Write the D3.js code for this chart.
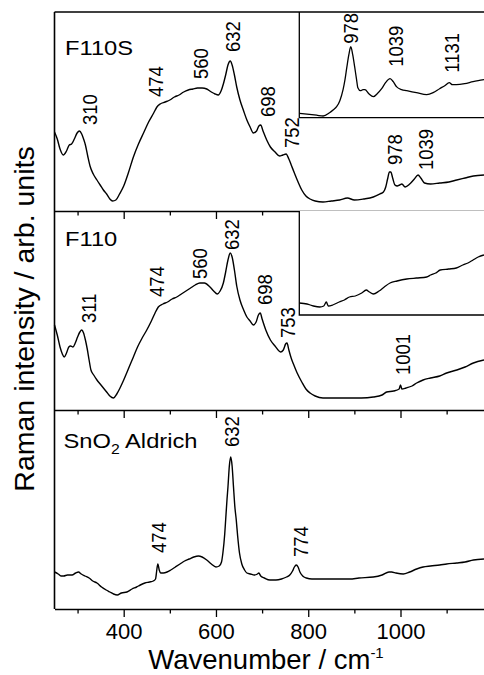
<!DOCTYPE html>
<html>
<head>
<meta charset="utf-8">
<script src="https://cdn.jsdelivr.net/npm/d3@7"></script>
<style>
  html, body { margin: 0; padding: 0; background: #fff; }
  svg { display: block; }
  text { font-family: "Liberation Sans", Arial, Helvetica, sans-serif; fill: #000; }
</style>
</head>
<body>
<svg id="chart" width="484" height="675"></svg>
<script>
// ---------------- DATA ----------------
const panelNames = ["F110S", "F110", "SnO2 Aldrich"];
const majorTicks = [400, 600, 800, 1000];
const minorTicks = [300, 500, 700, 900, 1100];
const tickLabels = ["400", "600", "800", "1000"];

// Spectra: [wavenumber (cm-1), intensity (arb. units)]
const f110s = [[250,79],[256,72],[262,62],[269,56],[276,60],[282,66],[287,67],[293,72],[299,78],[304,80],[309,77],[313,72],[317,66],[322,55],[327,45],[334,37],[342,31],[349,26],[356,21],[363,17],[370,12],[376,10],[383,11],[391,17],[400,25],[410,38],[421,54],[432,67],[443,78],[454,89],[465,98],[472,104],[479,107],[490,109],[500,111],[510,114],[520,116],[530,119],[540,121],[550,122],[560,123],[570,123],[580,122],[590,119],[598,117],[605,116],[611,120],[616,127],[621,136],[626,146],[631,150],[635,146],[640,136],[645,124],[652,111],[660,100],[667,91],[674,84],[681,78],[688,80],[693,85],[697,86],[702,80],[710,71],[718,64],[728,59],[738,55],[745,56],[752,57],[758,52],[764,45],[770,38],[778,29],[786,21],[795,15],[804,12],[815,10],[832,9],[850,10],[868,11],[885,13],[900,11],[920,12],[941,14],[955,17],[963,19],[968,24],[972,32],[976,39],[979,39],[983,33],[988,26],[993,25],[998,26],[1003,27],[1010,24],[1020,27],[1030,32],[1038,36],[1044,33],[1052,28],[1065,27],[1085,28],[1105,29],[1122,31],[1140,33],[1158,35],[1181,36]];

const f110 = [[250,85],[256,75],[262,63],[267,56],[271,53],[276,57],[281,63],[285,64],[290,63],[295,67],[300,73],[305,78],[309,80],[313,77],[317,70],[321,61],[325,50],[329,40],[335,35],[342,30],[349,26],[356,22],[363,18],[370,14],[378,12],[385,16],[392,22],[400,30],[410,41],[421,53],[430,63],[440,72],[450,80],[460,89],[468,97],[475,103],[485,106],[495,108],[505,111],[515,113],[525,116],[535,119],[545,122],[555,125],[565,127],[575,127],[587,123],[595,119],[603,116],[609,119],[616,127],[621,138],[626,150],[631,157],[635,153],[640,140],[645,124],[652,110],[660,100],[667,93],[674,89],[681,85],[687,88],[692,95],[696,97],[700,91],[708,80],[718,70],[728,64],[740,58],[746,60],[751,66],[754,67],[758,60],[763,52],[768,46],[776,37],[786,28],[795,21],[804,17],[815,14],[832,12],[860,12],[890,12],[915,12],[941,13],[960,15],[970,18],[985,19],[997,21],[1000,25],[1003,21],[1012,22],[1025,24],[1035,27],[1049,30],[1065,32],[1085,34],[1100,37],[1122,40],[1140,43],[1158,47],[1181,50]];

const sno2 = [[250,37],[258,35],[264,33],[270,33],[278,34],[288,34],[296,36],[302,37],[308,35],[316,33],[325,31],[333,28],[342,26],[352,22],[362,19],[370,17],[378,15],[386,14],[395,16],[407,17],[418,20],[428,22],[436,24],[446,26],[456,27],[464,28],[469,30],[472,40],[474,45],[477,39],[480,36],[486,36],[494,37],[502,39],[512,42],[522,45],[532,48],[542,50],[552,52],[562,53],[570,52],[580,49],[590,45],[600,42],[607,43],[612,47],[615,56],[619,75],[621,89],[624,110],[626,122],[629,143],[632,152],[635,143],[638,122],[641,102],[644,89],[647,73],[651,56],[656,45],[662,39],[667,36],[675,35],[683,34],[690,35],[693,36],[697,33],[705,31],[717,29],[730,29],[742,30],[753,32],[760,34],[766,38],[770,42],[774,44],[778,42],[782,37],[788,33],[796,31],[808,30],[818,30],[840,30],[868,30],[890,30],[910,31],[941,32],[960,34],[975,37],[981,37],[990,36],[1006,35],[1020,37],[1035,40],[1049,42],[1065,43],[1085,44],[1100,45],[1122,46],[1140,47],[1158,49],[1181,50]];

// Inset spectra (zoomed high-wavenumber region)
const f110sInset = [[898,4.4],[910,3.6],[925,2.5],[935,1.7],[945,5],[951,8],[956,11],[961,17],[966,28],[969,38],[972,51],[975,63],[978,71],[981,63],[984,51],[987,38],[989,30],[993,27],[997,28],[1000,28],[1006,24],[1013,21],[1019,24],[1026,29],[1032,35],[1039,39],[1044,36],[1049,31],[1057,28],[1065,27],[1080,25],[1096,23],[1106,25],[1116,29],[1124,32],[1131,35],[1136,33],[1142,33],[1155,34],[1168,36],[1176,37],[1185,38]];

const f110Inset = [[898,12],[910,11],[920,9],[930,8],[936,9],[940,13],[943,9],[950,10],[960,13],[968,15],[976,18],[985,19],[995,22],[1002,25],[1007,23],[1013,21],[1022,24],[1030,28],[1039,32],[1050,34],[1065,36],[1080,37],[1096,38],[1102,40],[1110,42],[1117,45],[1130,46],[1142,47],[1152,50],[1160,52],[1168,55],[1176,58],[1185,60]];

// Peak annotations: [label, wavenumber anchor, intensity anchor]
const f110sPeaks = [["310",325,86],["474",469,114],["560",566,132],["632",635,159],["698",712,94],["752",763,63],["978",986,46],["1039",1055,41]];
const f110sInsetPeaks = [["978",978,74],["1039",1048,51],["1131",1135,45]];
const f110Peaks = [["311",323,87],["474",471,113],["560",565,131],["632",633,160],["698",706,105],["753",755,72],["1001",1005,35]];
const sno2Peaks = [["632",633,162],["474",475,56],["774",784,52]];

// ---------------- LAYOUT ----------------
const W = 484, H = 675;
const left = 54.5, right = 484;
const panelTops = [12, 211, 410];
const panelH = 199;
const insetLeft = 299.3;
const insetBottoms = [117.7, 315];
const xDomain = [250, 1181];
const insetDomain = [898, 1185];
const yDomain = [0, 199];

const svg = d3.select("#chart");
const x = d3.scaleLinear().domain(xDomain).range([left, right]);
const xi = d3.scaleLinear().domain(insetDomain).range([insetLeft, right]);

const panels = [
  { name: panelNames[0], data: f110s, peaks: f110sPeaks, inset: f110sInset, insetPeaks: f110sInsetPeaks, labelDy: 43 },
  { name: panelNames[1], data: f110, peaks: f110Peaks, inset: f110Inset, insetPeaks: [], labelDy: 35 },
  { name: panelNames[2], data: sno2, peaks: sno2Peaks, inset: null, insetPeaks: [], labelDy: 38 }
];

function peakLabel(g, sx, sy, p) {
  g.append("text")
    .attr("transform", `translate(${sx(p[1])},${sy(p[2])}) rotate(-90) scale(0.88,1)`)
    .attr("dy", "0.36em")
    .attr("font-size", 21)
    .text(p[0]);
}

panels.forEach((p, i) => {
  const top = panelTops[i], bottom = top + panelH;
  const y = d3.scaleLinear().domain(yDomain).range([bottom, top]);
  const g = svg.append("g");

  // spectrum
  const line = d3.line().x(d => x(d[0])).y(d => y(d[1])).curve(d3.curveMonotoneX);
  g.append("path").datum(p.data)
    .attr("d", line).attr("fill", "none").attr("stroke", "#000").attr("stroke-width", 1.4);

  // peak labels
  p.peaks.forEach(pk => peakLabel(g, x, y, pk));

  // inset
  if (p.inset) {
    const ib = insetBottoms[i];
    const yi = d3.scaleLinear().domain([0, ib - top]).range([ib, top]);
    g.append("rect").attr("x", insetLeft).attr("y", top).attr("width", right - insetLeft).attr("height", ib - top)
      .attr("fill", "#fff");
    const iline = d3.line().x(d => xi(d[0])).y(d => yi(d[1])).curve(d3.curveMonotoneX);
    g.append("path").datum(p.inset)
      .attr("d", iline).attr("fill", "none").attr("stroke", "#000").attr("stroke-width", 1.3);
    g.append("path")
      .attr("d", `M${insetLeft},${top}V${ib}H${right}`)
      .attr("fill", "none").attr("stroke", "#000").attr("stroke-width", 1.3);
    p.insetPeaks.forEach(pk => peakLabel(g, xi, yi, pk));
  }

  // panel name
  const t = g.append("text")
    .attr("transform", `translate(${i === 2 ? 63.5 : 65},${top + p.labelDy}) scale(1.13,1)`)
    .attr("font-size", 21);
  if (i === 2) {
    t.append("tspan").text("SnO");
    t.append("tspan").attr("font-size", 14).attr("dy", 6).text("2");
    t.append("tspan").attr("dy", -6).text(" Aldrich");
  } else {
    t.text(p.name);
  }

  // bottom axis of this panel (ticks outward)
  const axMajor = d3.axisBottom(x).tickValues(majorTicks).tickSize(8).tickSizeOuter(0).tickPadding(6)
    .tickFormat((d, k) => i === 2 ? tickLabels[k] : "");
  const gm = svg.append("g").attr("transform", `translate(0,${bottom})`).call(axMajor);
  gm.select(".domain").attr("stroke-width", 1.6);
  gm.selectAll(".tick line").attr("stroke-width", 1.3);
  gm.selectAll("text").attr("font-size", 22).attr("font-family", "Liberation Sans, Arial, sans-serif");
  const axMinor = d3.axisBottom(x).tickValues(minorTicks).tickSize(4.5).tickSizeOuter(0).tickFormat("");
  const gn = svg.append("g").attr("transform", `translate(0,${bottom})`).call(axMinor);
  gn.select(".domain").remove();
  gn.selectAll(".tick line").attr("stroke-width", 1.3);
});

// frame: top line and left axis
svg.append("line").attr("x1", left).attr("x2", right).attr("y1", panelTops[0]).attr("y2", panelTops[0])
  .attr("stroke", "#000").attr("stroke-width", 1.6);
svg.append("line").attr("x1", left).attr("x2", left).attr("y1", panelTops[0]).attr("y2", panelTops[2] + panelH)
  .attr("stroke", "#000").attr("stroke-width", 1.6);

// axis titles
svg.append("text")
  .attr("transform", `translate(34,319) rotate(-90)`)
  .attr("text-anchor", "middle").attr("font-size", 28.5)
  .text("Raman intensity / arb. units");

const xt = svg.append("text").attr("x", 266).attr("y", 669).attr("text-anchor", "middle").attr("font-size", 27.5);
xt.append("tspan").text("Wavenumber / cm");
xt.append("tspan").attr("font-size", 15).attr("dy", -11).text("-1");
</script>
</body>
</html>
